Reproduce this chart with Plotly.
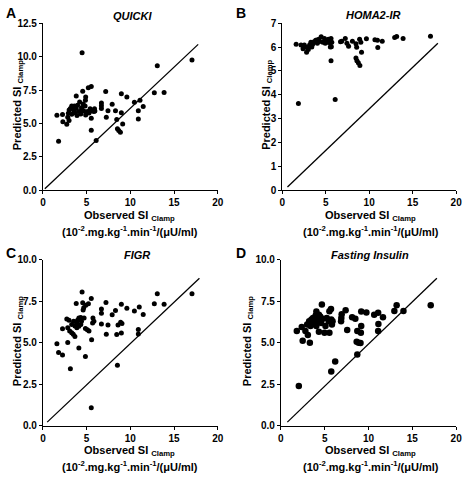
import plotly.graph_objects as go

W, H = 469, 482

# ---------------- data ----------------
quicki_x = [4.48, 17.05, 13.08, 5.53, 5.19, 4.55, 3.81, 4.89, 7.18, 8.97, 9.6, 12.74, 13.86,
            6.69, 6.69, 6.69, 7.92, 10.46, 11.1, 11.47, 10.91, 10.91, 7.44, 8.3, 8.97, 7.25,
            8.44, 9.12, 8.52, 8.67, 8.86, 5.53, 6.09, 1.79, 1.6, 2.24, 2.28, 2.73, 2.99, 2.84,
            2.91, 3.14, 3.29, 3.51, 3.66, 3.81, 3.96, 4.15, 4.33, 4.41, 4.6, 4.67, 4.82, 4.89,
            5.08, 5.27, 5.53, 5.83, 5.94, 5.53, 3.3, 3.9, 4.2, 5.9, 3.0, 4.5, 3.6, 4.86, 5.4]
quicki_y = [10.29, 9.75, 9.32, 7.76, 7.68, 7.42, 7.05, 6.98, 7.39, 7.22, 6.98, 7.30, 7.32,
            6.54, 6.33, 6.13, 6.44, 6.59, 6.73, 6.27, 5.96, 5.33, 5.96, 5.96, 5.81, 5.47,
            5.30, 4.96, 4.60, 4.47, 4.35, 4.50, 3.72, 3.67, 5.62, 5.67, 5.13, 4.94, 5.23, 5.47,
            5.76, 6.13, 6.30, 6.01, 5.81, 6.13, 6.37, 5.89, 5.71, 6.18, 6.45, 5.93, 6.30, 5.64,
            5.89, 5.79, 5.93, 5.89, 5.93, 5.40, 5.70, 5.60, 6.60, 6.10, 6.00, 6.00, 6.30, 6.74, 6.10]

homa_x = [17.05, 12.93, 13.16, 13.9, 10.95, 10.99, 11.5, 10.66, 9.68, 8.9, 9.04, 8.48, 8.56,
          9.12, 8.48, 8.59, 8.75, 8.93, 8.07, 7.44, 7.25, 7.63, 6.84, 6.7, 5.61, 6.09, 1.86,
          1.6, 2.16, 2.39, 2.8, 2.91, 3.14, 3.29, 3.4, 3.66, 3.85, 4.04, 4.22, 4.48, 4.67,
          4.86, 5.08, 5.31, 5.53, 5.61, 5.53, 5.7, 2.54, 2.65, 3.0, 3.5, 4.3, 4.95, 5.2, 4.0, 5.65]
homa_y = [6.46, 6.40, 6.44, 6.36, 6.29, 5.98, 6.25, 6.31, 6.35, 6.33, 6.20, 6.14, 5.99,
          5.79, 5.54, 5.43, 5.34, 5.23, 6.25, 6.16, 6.36, 6.04, 6.25, 6.22, 5.43, 3.81, 3.64,
          6.12, 6.09, 5.93, 5.79, 5.98, 6.09, 6.20, 6.01, 6.22, 6.29, 6.16, 6.33, 6.43, 6.20,
          6.36, 6.25, 6.33, 6.16, 6.36, 6.00, 6.20, 6.09, 6.00, 5.90, 6.12, 6.24, 6.16, 6.20, 6.30, 6.02]

figr_x = [17.05, 13.08, 12.74, 13.86, 4.48, 5.53, 3.81, 4.55, 4.67, 4.6, 7.21, 8.97, 9.6,
          11.02, 10.46, 11.47, 6.69, 6.69, 8.3, 7.92, 8.89, 9.04, 8.59, 7.44, 6.69, 10.91,
          10.91, 8.97, 8.44, 7.25, 8.52, 5.53, 5.57, 4.86, 4.11, 3.14, 2.24, 1.79, 1.6, 2.84,
          2.24, 2.73, 2.99, 2.84, 3.06, 3.29, 3.47, 3.66, 3.29, 3.51, 3.66, 3.85, 3.96, 4.11,
          4.33, 4.41, 4.71, 4.11, 3.88, 4.33, 4.86, 5.08, 5.27, 5.72, 5.83, 5.68, 4.9, 5.2]
figr_y = [7.95, 7.95, 7.35, 7.31, 8.05, 7.66, 7.36, 7.40, 7.11, 6.97, 7.42, 7.32, 7.07,
          7.15, 6.91, 6.70, 7.03, 6.78, 6.94, 6.68, 6.23, 6.15, 6.06, 6.06, 6.13, 5.80,
          5.53, 5.59, 5.49, 5.51, 3.65, 1.10, 5.18, 4.18, 4.69, 3.44, 4.26, 4.42, 4.94, 5.02,
          5.84, 6.43, 6.35, 5.90, 5.70, 5.60, 5.51, 5.37, 6.09, 6.29, 6.00, 6.19, 6.35, 6.48,
          6.52, 6.29, 6.48, 5.99, 5.90, 6.09, 5.86, 5.78, 5.70, 6.48, 6.29, 6.19, 7.25, 7.35]

fi_x = [17.1, 13.21, 12.95, 13.99, 4.68, 4.05, 5.72, 5.54, 7.39, 6.94, 6.9, 6.87, 8.13, 8.5,
        9.17, 9.76, 10.65, 11.1, 11.65, 11.13, 11.1, 9.17, 9.13, 8.72, 7.57, 8.65, 8.87, 9.09,
        8.72, 6.2, 5.75, 2.05, 1.82, 2.49, 3.31, 3.08, 2.38, 2.8, 3.0, 3.23, 3.49, 3.38, 3.67,
        3.86, 4.05, 4.23, 4.34, 4.49, 4.6, 4.79, 4.98, 5.09, 5.24, 5.46, 5.75, 5.83, 5.9, 5.54,
        4.34, 3.67, 3.97]
fi_y = [7.26, 7.26, 6.91, 6.91, 7.30, 6.88, 7.03, 6.90, 6.95, 6.72, 6.49, 6.29, 6.53, 6.44,
        6.88, 6.82, 6.68, 6.80, 6.53, 6.13, 5.70, 6.00, 5.60, 5.70, 5.76, 5.06, 5.00, 4.98,
        4.30, 3.87, 3.28, 2.40, 5.70, 5.12, 5.00, 5.47, 5.94, 5.70, 6.09, 6.29, 6.39, 6.00, 6.13,
        6.29, 6.00, 6.33, 5.66, 6.58, 6.19, 6.44, 5.60, 6.00, 6.48, 6.29, 6.39, 6.10, 6.29, 5.60,
        6.68, 6.49, 6.63]

# line endpoints per panel
lineA_x, lineA_y = [0.22, 17.76], [0.12, 10.92]
lineB_x, lineB_y = [0.6, 17.9], [0.14, 6.16]
lineC_x, lineC_y = [0.49, 17.9], [0.23, 8.87]
lineD_x, lineD_y = [0.74, 17.8], [0.23, 8.87]

panel_titles = ["QUICKI", "HOMA2-IR", "FIGR", "Fasting Insulin"]
panel_letters = ["A", "B", "C", "D"]
y_ranges = [[0, 12.5], [0, 7], [0, 10], [0, 10]]
y_dticks = [2.5, 1, 2.5, 2.5]
y_formats = [".1f", "d", ".1f", ".1f"]
x_ticks = [0, 5, 10, 15, 20]

# ---------------- layout geometry (pixels) ----------------
# (x0, x1, ytop, ybottom)
boxes = [(40.7, 219, 17.7, 189), (284.7, 462, 17.7, 189),
         (40.7, 219, 260, 430.7), (283.3, 462, 260, 430.7)]
title_pos = [(131.7, 10), (377, 9.5), (136.7, 255), (374, 255)]
letter_pos = [(1.5, 7), (235.5, 7), (1.5, 253.5), (235.5, 253.5)]
ytitle_left = [5.5, 260, 5.5, 240]
xtitle_cx = [129, 374.8, 129, 374.8]
marker_sizes = [5, 5, 5, 6.5]


def px(x):
    return x / W


def py(y):
    return 1 - y / H


font_family = "Liberation Sans, Arial, sans-serif"

fig = go.Figure()
datasets = [(quicki_x, quicki_y, lineA_x, lineA_y),
            (homa_x, homa_y, lineB_x, lineB_y),
            (figr_x, figr_y, lineC_x, lineC_y),
            (fi_x, fi_y, lineD_x, lineD_y)]

for i, (xs, ys, lx, ly) in enumerate(datasets):
    xa = "x" if i == 0 else f"x{i+1}"
    ya = "y" if i == 0 else f"y{i+1}"
    fig.add_trace(go.Scatter(x=lx, y=ly, mode="lines", line=dict(color="black", width=1.3),
                             xaxis=xa, yaxis=ya, showlegend=False, hoverinfo="skip"))
    fig.add_trace(go.Scatter(x=xs, y=ys, mode="markers",
                             marker=dict(color="black", size=marker_sizes[i], line=dict(width=0)),
                             xaxis=xa, yaxis=ya, showlegend=False, cliponaxis=False))

annotations = []
for i, (x0, x1, yt, yb) in enumerate(boxes):
    n = "" if i == 0 else str(i + 1)
    axis_common = dict(showline=True, linecolor="black", linewidth=1, ticks="outside",
                       ticklen=3, tickwidth=1, tickcolor="black", showgrid=False, zeroline=False,
                       ticklabeloverflow="allow",
                       tickfont=dict(family=font_family, size=10, color="black", weight="bold"))
    fig.layout["xaxis" + n] = dict(domain=[px(x0), px(x1)], range=[0, 20], tickvals=x_ticks,
                                   anchor="y" + n, **axis_common)
    fig.layout["yaxis" + n] = dict(domain=[py(yb), py(yt)], range=y_ranges[i], dtick=y_dticks[i],
                                   tick0=0, tickformat=y_formats[i], anchor="x" + n, **axis_common)
    tx, ty = title_pos[i]
    annotations.append(dict(text=f"<b><i>{panel_titles[i]}</i></b>", x=px(tx), y=py(ty),
                            xref="paper", yref="paper", showarrow=False, xanchor="center",
                            yanchor="middle", font=dict(family=font_family, size=11, color="black")))
    lx_, ly_ = letter_pos[i]
    annotations.append(dict(text=f"<b>{panel_letters[i]}</b>", x=px(lx_), y=py(ly_),
                            xref="paper", yref="paper", showarrow=False, xanchor="left",
                            yanchor="middle", font=dict(family=font_family, size=14, color="black")))
    annotations.append(dict(text="<b>Observed SI <sub>Clamp</sub></b>", x=px(xtitle_cx[i]),
                            y=py(yb + 26), xref="paper", yref="paper", showarrow=False,
                            xanchor="center", yanchor="middle",
                            font=dict(family=font_family, size=11, color="black")))
    annotations.append(dict(text="<b>(10<sup>-2</sup>.mg.kg<sup>-1</sup>.min<sup>-1</sup>/(μU/ml)</b>",
                            x=px(xtitle_cx[i]), y=py(yb + 41.5), xref="paper", yref="paper",
                            showarrow=False, xanchor="center", yanchor="middle",
                            font=dict(family=font_family, size=11, color="black")))
    annotations.append(dict(text="<b>Predicted SI <sub>Clamp</sub></b>", x=px(ytitle_left[i]),
                            y=py((yt + yb) / 2 - 2), xref="paper", yref="paper", showarrow=False,
                            xanchor="left", yanchor="middle", textangle=-90,
                            font=dict(family=font_family, size=11, color="black")))

fig.update_layout(width=W, height=H, margin=dict(l=0, r=0, t=0, b=0),
                  paper_bgcolor="white", plot_bgcolor="white", annotations=annotations,
                  font=dict(family=font_family, color="black"))

fig.write_html("out.html", config={"displayModeBar": False},
               post_script="document.body.style.margin='0';document.body.style.overflow='hidden';")
